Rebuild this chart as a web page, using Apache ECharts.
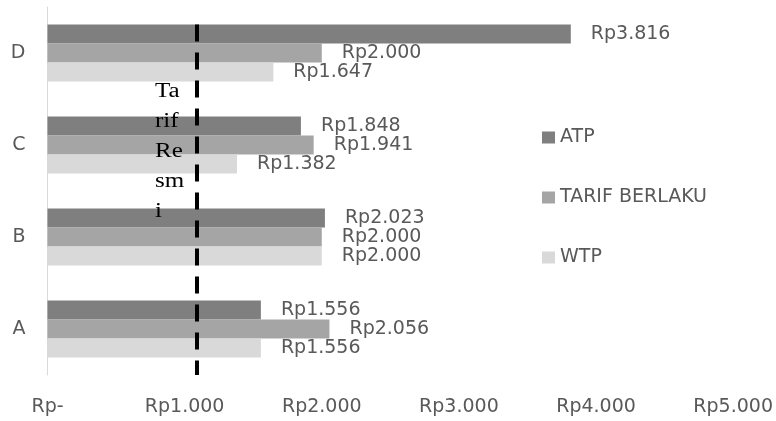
<!DOCTYPE html>
<html>
<head>
<meta charset="utf-8">
<script src="https://cdn.jsdelivr.net/npm/echarts@6/dist/echarts.min.js"></script>
<style>html,body{margin:0;padding:0;background:#fff}#c{width:776px;height:421px}</style>
</head>
<body>
<div id="c"></div>
<script>
const categories = ['A', 'B', 'C', 'D'];
const atp = [1556, 2023, 1848, 3816];
const tarifBerlaku = [2056, 2000, 1941, 2000];
const wtp = [1556, 2000, 1382, 1647];
const tarifResmi = 1090;
const tarifResmiSpan = [3.81, 0]; // vertical extent of the reference line in category units (bottom = 0, top = 4)
const xTicks = [0, 1000, 2000, 3000, 4000, 5000];

function rp(v) {
  if (v === 0) return 'Rp-';
  return 'Rp' + String(Math.round(v)).replace(/\B(?=(\d{3})+(?!\d))/g, '.');
}

const FONT = 'DejaVu Sans';
const TXT = '#595959';
const labelCfg = {
  show: true, position: 'right', distance: 20,
  color: TXT, fontFamily: FONT, fontSize: 19,
  formatter: p => rp(p.value)
};

const chart = echarts.init(document.getElementById('c'));
chart.setOption({
  animation: false,
  textStyle: { fontFamily: FONT },
  grid: { left: 47.5, right: 41, top: 7, bottom: 46, containLabel: false },
  legend: {
    orient: 'vertical', left: 542, top: 128, padding: 0,
    itemWidth: 13, itemHeight: 12, itemGap: 41,
    data: ['ATP', 'TARIF BERLAKU', 'WTP'],
    textStyle: { color: TXT, fontFamily: FONT, fontSize: 19 },
    icon: 'rect'
  },
  xAxis: {
    type: 'value', min: xTicks[0], max: xTicks[xTicks.length - 1], interval: 1000,
    axisLine: { show: false }, axisTick: { show: false }, splitLine: { show: false },
    axisLabel: { color: TXT, fontFamily: FONT, fontSize: 19, margin: 23, formatter: v => rp(v) }
  },
  yAxis: [{
    type: 'category', data: categories,
    axisLine: { show: true, lineStyle: { color: '#d9d9d9', width: 1 } },
    axisTick: { show: false },
    axisLabel: { color: TXT, fontFamily: FONT, fontSize: 19, margin: 22 }
  }, {
    type: 'value', min: 0, max: categories.length, show: false,
    splitLine: { show: false }
  }],
  series: [
    { name: 'ATP', type: 'bar', data: atp, barGap: '0%', barCategoryGap: '38%',
      itemStyle: { color: '#7f7f7f' }, label: labelCfg },
    { name: 'TARIF BERLAKU', type: 'bar', data: tarifBerlaku, barGap: '0%', barCategoryGap: '38%',
      itemStyle: { color: '#a5a5a5' }, label: labelCfg },
    { name: 'WTP', type: 'bar', data: wtp, barGap: '0%', barCategoryGap: '38%',
      itemStyle: { color: '#d9d9d9' }, label: labelCfg },
    { name: 'Tarif Resmi', type: 'line', yAxisIndex: 1, data: [], silent: true,
      markLine: {
        symbol: 'none', silent: true, label: { show: false }, z: 10,
        lineStyle: { color: '#000', width: 4, type: [17, 11] },
        data: [[{ coord: [tarifResmi, tarifResmiSpan[0]] }, { coord: [tarifResmi, tarifResmiSpan[1]] }]]
      } }
  ],
  graphic: [{
    type: 'text', left: 155, top: 77, z: 100, scaleX: 1.25,
    style: { text: 'Ta\nrif\nRe\nsm\ni', fill: '#000', font: '20px "Liberation Serif"', lineHeight: 30 }
  }]
});
</script>
</body>
</html>
